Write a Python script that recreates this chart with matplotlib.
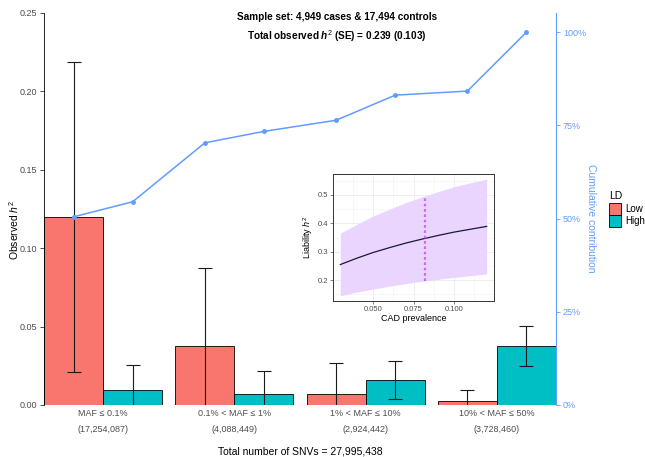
import matplotlib
matplotlib.use("Agg")
import matplotlib.pyplot as plt
import numpy as np
from matplotlib.patches import Patch
from matplotlib.ticker import FuncFormatter, MultipleLocator

plt.rcParams["font.family"] = ["Liberation Sans", "DejaVu Sans"]
plt.rcParams["mathtext.fontset"] = "custom"
plt.rcParams["mathtext.rm"] = "Liberation Sans"
plt.rcParams["mathtext.it"] = "Liberation Sans:italic"
plt.rcParams["mathtext.bf"] = "Liberation Sans:bold"
plt.rcParams["mathtext.bfit"] = "Liberation Sans:bold:italic"

# dados do painel principal
categorias = ["MAF ≤ 0.1%", "0.1% < MAF ≤ 1%", "1% < MAF ≤ 10%", "10% < MAF ≤ 50%"]
n_snvs = ["(17,254,087)", "(4,088,449)", "(2,924,442)", "(3,728,460)"]
h2_low = [0.1200, 0.0376, 0.0071, 0.0026]
h2_high = [0.0096, 0.0073, 0.0160, 0.0376]
se_low = [0.0990, 0.0498, 0.0197, 0.0070]
se_high = [0.0159, 0.0144, 0.0122, 0.0126]

# dados do gráfico interno (h2 de responsabilidade vs prevalência)
prevalencia = [0.03, 0.04, 0.05, 0.06, 0.07, 0.08, 0.09, 0.10, 0.11, 0.12]
h2_liab = [0.255, 0.277, 0.297, 0.314, 0.330, 0.344, 0.357, 0.369, 0.379, 0.389]
h2_liab_sup = [0.365, 0.396, 0.425, 0.449, 0.472, 0.492, 0.511, 0.528, 0.542, 0.555]
h2_liab_inf = [0.145, 0.158, 0.169, 0.179, 0.188, 0.196, 0.203, 0.210, 0.216, 0.222]
prev_cad = 0.082
faixa_cad = [0.198, 0.49]

COR_LOW = "#F8766D"
COR_HIGH = "#00BFC4"
AZUL = "#619CFF"
CINZA = "#4D4D4D"
W, H = 645, 457

fig = plt.figure(figsize=(6.45, 4.57), dpi=100)
ax = fig.add_axes([44 / W, 1 - 405 / H, 512 / W, 392 / H])

x = np.arange(1, len(categorias) + 1)
w = 0.45
ax.bar(x - w / 2, h2_low, width=w, color=COR_LOW, edgecolor="black", linewidth=0.6, zorder=2)
ax.bar(x + w / 2, h2_high, width=w, color=COR_HIGH, edgecolor="black", linewidth=0.6, zorder=2)
ax.errorbar(x - w / 2, h2_low, yerr=se_low, fmt="none", ecolor="#1A1A1A", elinewidth=0.8,
            capsize=5, capthick=0.8, zorder=3)
ax.errorbar(x + w / 2, h2_high, yerr=se_high, fmt="none", ecolor="#1A1A1A", elinewidth=0.8,
            capsize=5, capthick=0.8, zorder=3)

# contribuição acumulada (Low, High, Low, High...)
xs = np.ravel(np.column_stack([x - w / 2, x + w / 2]))
vals = np.ravel(np.column_stack([h2_low, h2_high]))
acum = np.cumsum(vals)
total = acum[-1]
ax.plot(xs, acum, color=AZUL, lw=1.1, marker="o", ms=2.5, zorder=4)

ax.set_xlim(0.55, 4.45)
ax.set_ylim(0, 0.25)
ax.yaxis.set_major_locator(MultipleLocator(0.05))
ax.yaxis.set_major_formatter(FuncFormatter(lambda v, p: f"{v:.2f}"))
ax.set_xticks(x)
ax.set_xticklabels([f"{c}\n{n}" for c, n in zip(categorias, n_snvs)], linespacing=2.0)
ax.tick_params(axis="x", length=0, pad=3, labelsize=6.5, colors=CINZA)
ax.tick_params(axis="y", length=3, width=0.6, labelsize=6.5, colors=CINZA, pad=2)
ax.tick_params(axis="y", color="#333333")
for s in ["top", "right", "bottom"]:
    ax.spines[s].set_visible(False)
ax.spines["left"].set_linewidth(0.6)
fig.text(14 / W, 1 - 230 / H, "Observed $\\mathit{h}^2$", fontsize=7.5, rotation=90,
         ha="center", va="center")
fig.text(300 / W, 1 - 451 / H, "Total number of SNVs = 27,995,438", fontsize=7.5,
         ha="center", va="center")

ax2 = ax.twinx()
ax2.set_ylim(0, 0.25 / total)
ax2.set_yticks([0, 0.25, 0.5, 0.75, 1.0])
ax2.yaxis.set_major_formatter(FuncFormatter(lambda v, p: f"{v * 100:.0f}%"))
ax2.tick_params(axis="y", length=3, width=0.6, labelsize=6.5, colors=AZUL, pad=2)
for s in ["top", "left", "bottom"]:
    ax2.spines[s].set_visible(False)
ax2.spines["right"].set_color(AZUL)
ax2.spines["right"].set_linewidth(0.8)
fig.text(591 / W, 1 - 218 / H, "Cumulative contribution", fontsize=7.5, color=AZUL,
         rotation=270, ha="center", va="center")

fig.text(337 / W, 1 - 17 / H, "Sample set: 4,949 cases & 17,494 controls",
         ha="center", va="center", fontsize=7.2, fontweight="bold")
fig.text(337 / W, 1 - 36 / H, "Total observed $\\mathbfit{h}^2$ (SE) = 0.239 (0.103)",
         ha="center", va="center", fontsize=7.2, fontweight="bold")

# legenda LD
fig.text(609 / W, 1 - 196 / H, "LD", fontsize=7.5, ha="left", va="center")
handles = [Patch(facecolor=COR_LOW, edgecolor="black", linewidth=0.6, label="Low"),
           Patch(facecolor=COR_HIGH, edgecolor="black", linewidth=0.6, label="High")]
leg = fig.legend(handles=handles, loc="upper left", bbox_to_anchor=(609 / W, 1 - 203 / H),
                 frameon=False, fontsize=7, handlelength=1.25, handleheight=1.55,
                 handletextpad=0.45, labelspacing=0.0, borderaxespad=0, borderpad=0)

# gráfico interno
ins = fig.add_axes([333 / W, 1 - 301 / H, 161 / W, 127 / H])
ins.fill_between(prevalencia, h2_liab_inf, h2_liab_sup, color="#E9D5FF", lw=0, zorder=2)
ins.plot(prevalencia, h2_liab, color="#1A1A2E", lw=0.9, zorder=3)
ins.vlines(prev_cad, faixa_cad[0], faixa_cad[1], color="#CC66FF", lw=1.6,
           linestyles=(0, (1.2, 1.2)), zorder=4)
ins.set_xlim(0.0255, 0.1245)
ins.set_ylim(0.127, 0.573)
ins.set_xticks([0.050, 0.075, 0.100])
ins.set_xticks([0.0375, 0.0625, 0.0875, 0.1125], minor=True)
ins.set_yticks([0.2, 0.3, 0.4, 0.5])
ins.set_yticks([0.15, 0.25, 0.35, 0.45, 0.55], minor=True)
ins.xaxis.set_major_formatter(FuncFormatter(lambda v, p: f"{v:.3f}"))
ins.yaxis.set_major_formatter(FuncFormatter(lambda v, p: f"{v:.1f}"))
ins.grid(which="major", color="#EBEBEB", lw=0.6, zorder=0)
ins.grid(which="minor", color="#F2F2F2", lw=0.4, zorder=0)
ins.tick_params(which="major", length=2, width=0.5, labelsize=5.5, colors=CINZA, pad=1.5)
ins.tick_params(which="minor", length=0)
for s in ins.spines.values():
    s.set_linewidth(0.7)
    s.set_color("#333333")
ins.set_xlabel("CAD prevalence", fontsize=6.5, labelpad=1)
ins.set_ylabel("Liability $\\mathit{h}^2$", fontsize=6.5, labelpad=2)

fig.savefig("out.png", dpi=100)
